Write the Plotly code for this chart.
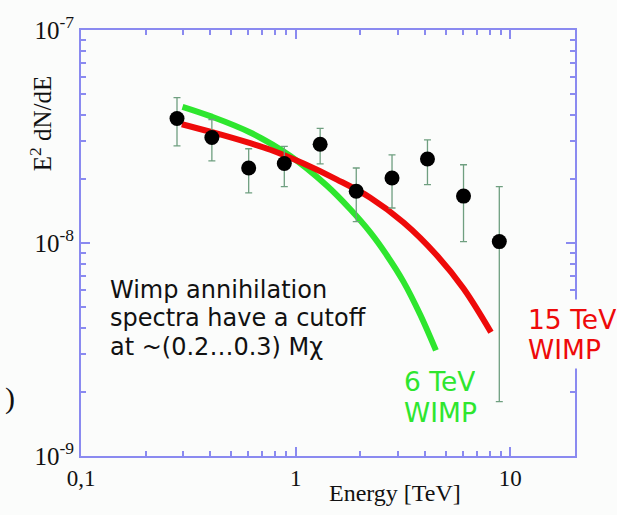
import numpy as np
import plotly.graph_objects as go

# Measured spectrum (E^2 dN/dE) with asymmetric error bounds
energy = [0.28, 0.407, 0.604, 0.885, 1.30, 1.915, 2.81, 4.11, 6.05, 8.88]
flux = [3.84e-8, 3.13e-8, 2.25e-8, 2.36e-8, 2.91e-8, 1.75e-8, 2.02e-8, 2.48e-8, 1.66e-8, 1.015e-8]
flux_upper = [4.81e-8, 3.80e-8, 2.77e-8, 2.84e-8, 3.45e-8, 2.25e-8, 2.59e-8, 3.05e-8, 2.33e-8, 1.84e-8]
flux_lower = [2.86e-8, 2.43e-8, 1.72e-8, 1.84e-8, 2.35e-8, 1.26e-8, 1.46e-8, 1.88e-8, 1.015e-8, 1.80e-9]

# Model spectra for WIMP annihilation
wimp6_e = [0.297, 0.400, 0.614, 0.944, 1.399, 1.796, 2.226, 2.662, 3.18, 3.805, 4.50]
wimp6_f = [4.36e-8, 3.94e-8, 3.30e-8, 2.56e-8, 1.855e-8, 1.439e-8, 1.121e-8, 8.74e-9,
           6.57e-9, 4.60e-9, 3.13e-9]
wimp15_e = [0.295, 0.400, 0.614, 0.762, 1.088, 1.557, 2.226, 3.18, 4.55, 6.05, 8.12]
wimp15_f = [3.61e-8, 3.33e-8, 2.94e-8, 2.74e-8, 2.36e-8, 1.985e-8, 1.632e-8, 1.248e-8,
            8.74e-9, 6.11e-9, 3.81e-9]

x_ticks = [0.1, 1, 10]
x_tick_labels = ["0,1", "1", "10"]
y_ticks = [1e-9, 1e-8, 1e-7]
y_tick_labels = ["10<sup>-9</sup>", "10<sup>-8</sup>", "10<sup>-7</sup>"]

note_lines = ["Wimp annihilation", "spectra have a cutoff", "at ~(0.2…0.3) Mχ"]
label_6tev = ["6 TeV", "WIMP"]
label_15tev = ["15 TeV", "WIMP"]

AXIS = "#8a8af0"
GREEN = "#2ee62e"
RED = "#ee0a0a"
BG = "#fbfcfb"
SERIF = "Liberation Serif, Times New Roman, serif"
SANS = "DejaVu Sans, Verdana, sans-serif"

err_plus = list(np.array(flux_upper) - np.array(flux))
err_minus = list(np.array(flux) - np.array(flux_lower))

minor_x = [v * d for d in (0.1, 1) for v in range(2, 10)] + [20]
minor_y = [v * d for d in (1e-9, 1e-8) for v in range(2, 10)]

fig = go.Figure()
fig.add_trace(go.Scatter(x=wimp6_e, y=wimp6_f, mode="lines",
                         line=dict(color=GREEN, width=6, shape="spline", smoothing=1),
                         hoverinfo="skip"))
fig.add_trace(go.Scatter(x=wimp15_e, y=wimp15_f, mode="lines",
                         line=dict(color=RED, width=6, shape="spline", smoothing=1),
                         hoverinfo="skip"))
fig.add_trace(go.Scatter(
    x=energy, y=flux, mode="markers",
    marker=dict(color="black", size=15),
    error_y=dict(type="data", symmetric=False, array=err_plus,
                 arrayminus=err_minus, color="#6f9f80", thickness=1.3, width=3.5),
))

annotations = []
# explanatory note, one annotation per line so the spacing stays tight
for text, y in zip(note_lines, [0.3893, 0.3231, 0.2568]):
    annotations.append(dict(text=text, x=0.0553, y=y, xanchor="left", yanchor="middle",
                            font=dict(family=SANS, size=24, color="#111111")))
for text, y in zip(label_6tev, [0.1766, 0.1023]):
    annotations.append(dict(text=text, x=0.652, y=y, xanchor="left", yanchor="middle",
                            height=30, borderpad=0,
                            font=dict(family=SANS, size=26.5, color=GREEN)))
for text, y in zip(label_15tev, [0.3219, 0.251]):
    annotations.append(dict(text=text, x=0.8948, y=y, xanchor="left", yanchor="middle",
                            height=30, bgcolor=BG, borderpad=4,
                            font=dict(family=SANS, size=26.5, color=RED)))
annotations += [
    dict(text="E<sup>2</sup> dN/dE", x=-0.082, y=0.782, textangle=-90,
         xanchor="center", yanchor="middle",
         font=dict(family=SERIF, size=25, color="#111111")),
    dict(text="Energy [TeV]", x=0.635, y=-0.088, xanchor="center", yanchor="middle",
         font=dict(family=SERIF, size=24, color="#111111")),
    dict(text=")", x=-0.129, y=0.135, xanchor="right", yanchor="middle",
         font=dict(family=SERIF, size=30, color="#111111")),
]
for a in annotations:
    a.update(xref="paper", yref="paper", showarrow=False)

fig.update_layout(
    width=617, height=515,
    margin=dict(l=81, r=42, t=26, b=59),
    paper_bgcolor=BG, plot_bgcolor=BG,
    showlegend=False,
    annotations=annotations,
)
fig.update_xaxes(
    type="log", range=[-1, np.log10(20)],
    tickvals=x_ticks, ticktext=x_tick_labels,
    ticks="inside", ticklen=9, tickwidth=1.5, tickcolor=AXIS,
    minor=dict(tickvals=minor_x, ticks="inside", ticklen=5, tickwidth=1.5, tickcolor=AXIS),
    showline=True, linecolor=AXIS, linewidth=2, mirror="allticks",
    showgrid=False, zeroline=False,
    tickfont=dict(family=SERIF, size=23, color="#111111"),
)
fig.update_yaxes(
    type="log", range=[-9, -7],
    tickvals=y_ticks, ticktext=y_tick_labels,
    ticks="inside", ticklen=9, tickwidth=1.5, tickcolor=AXIS,
    minor=dict(tickvals=minor_y, ticks="inside", ticklen=5, tickwidth=1.5, tickcolor=AXIS),
    showline=True, linecolor=AXIS, linewidth=2, mirror="allticks",
    showgrid=False, zeroline=False,
    tickfont=dict(family=SERIF, size=25, color="#111111"),
)

fig.write_html("out.html")
